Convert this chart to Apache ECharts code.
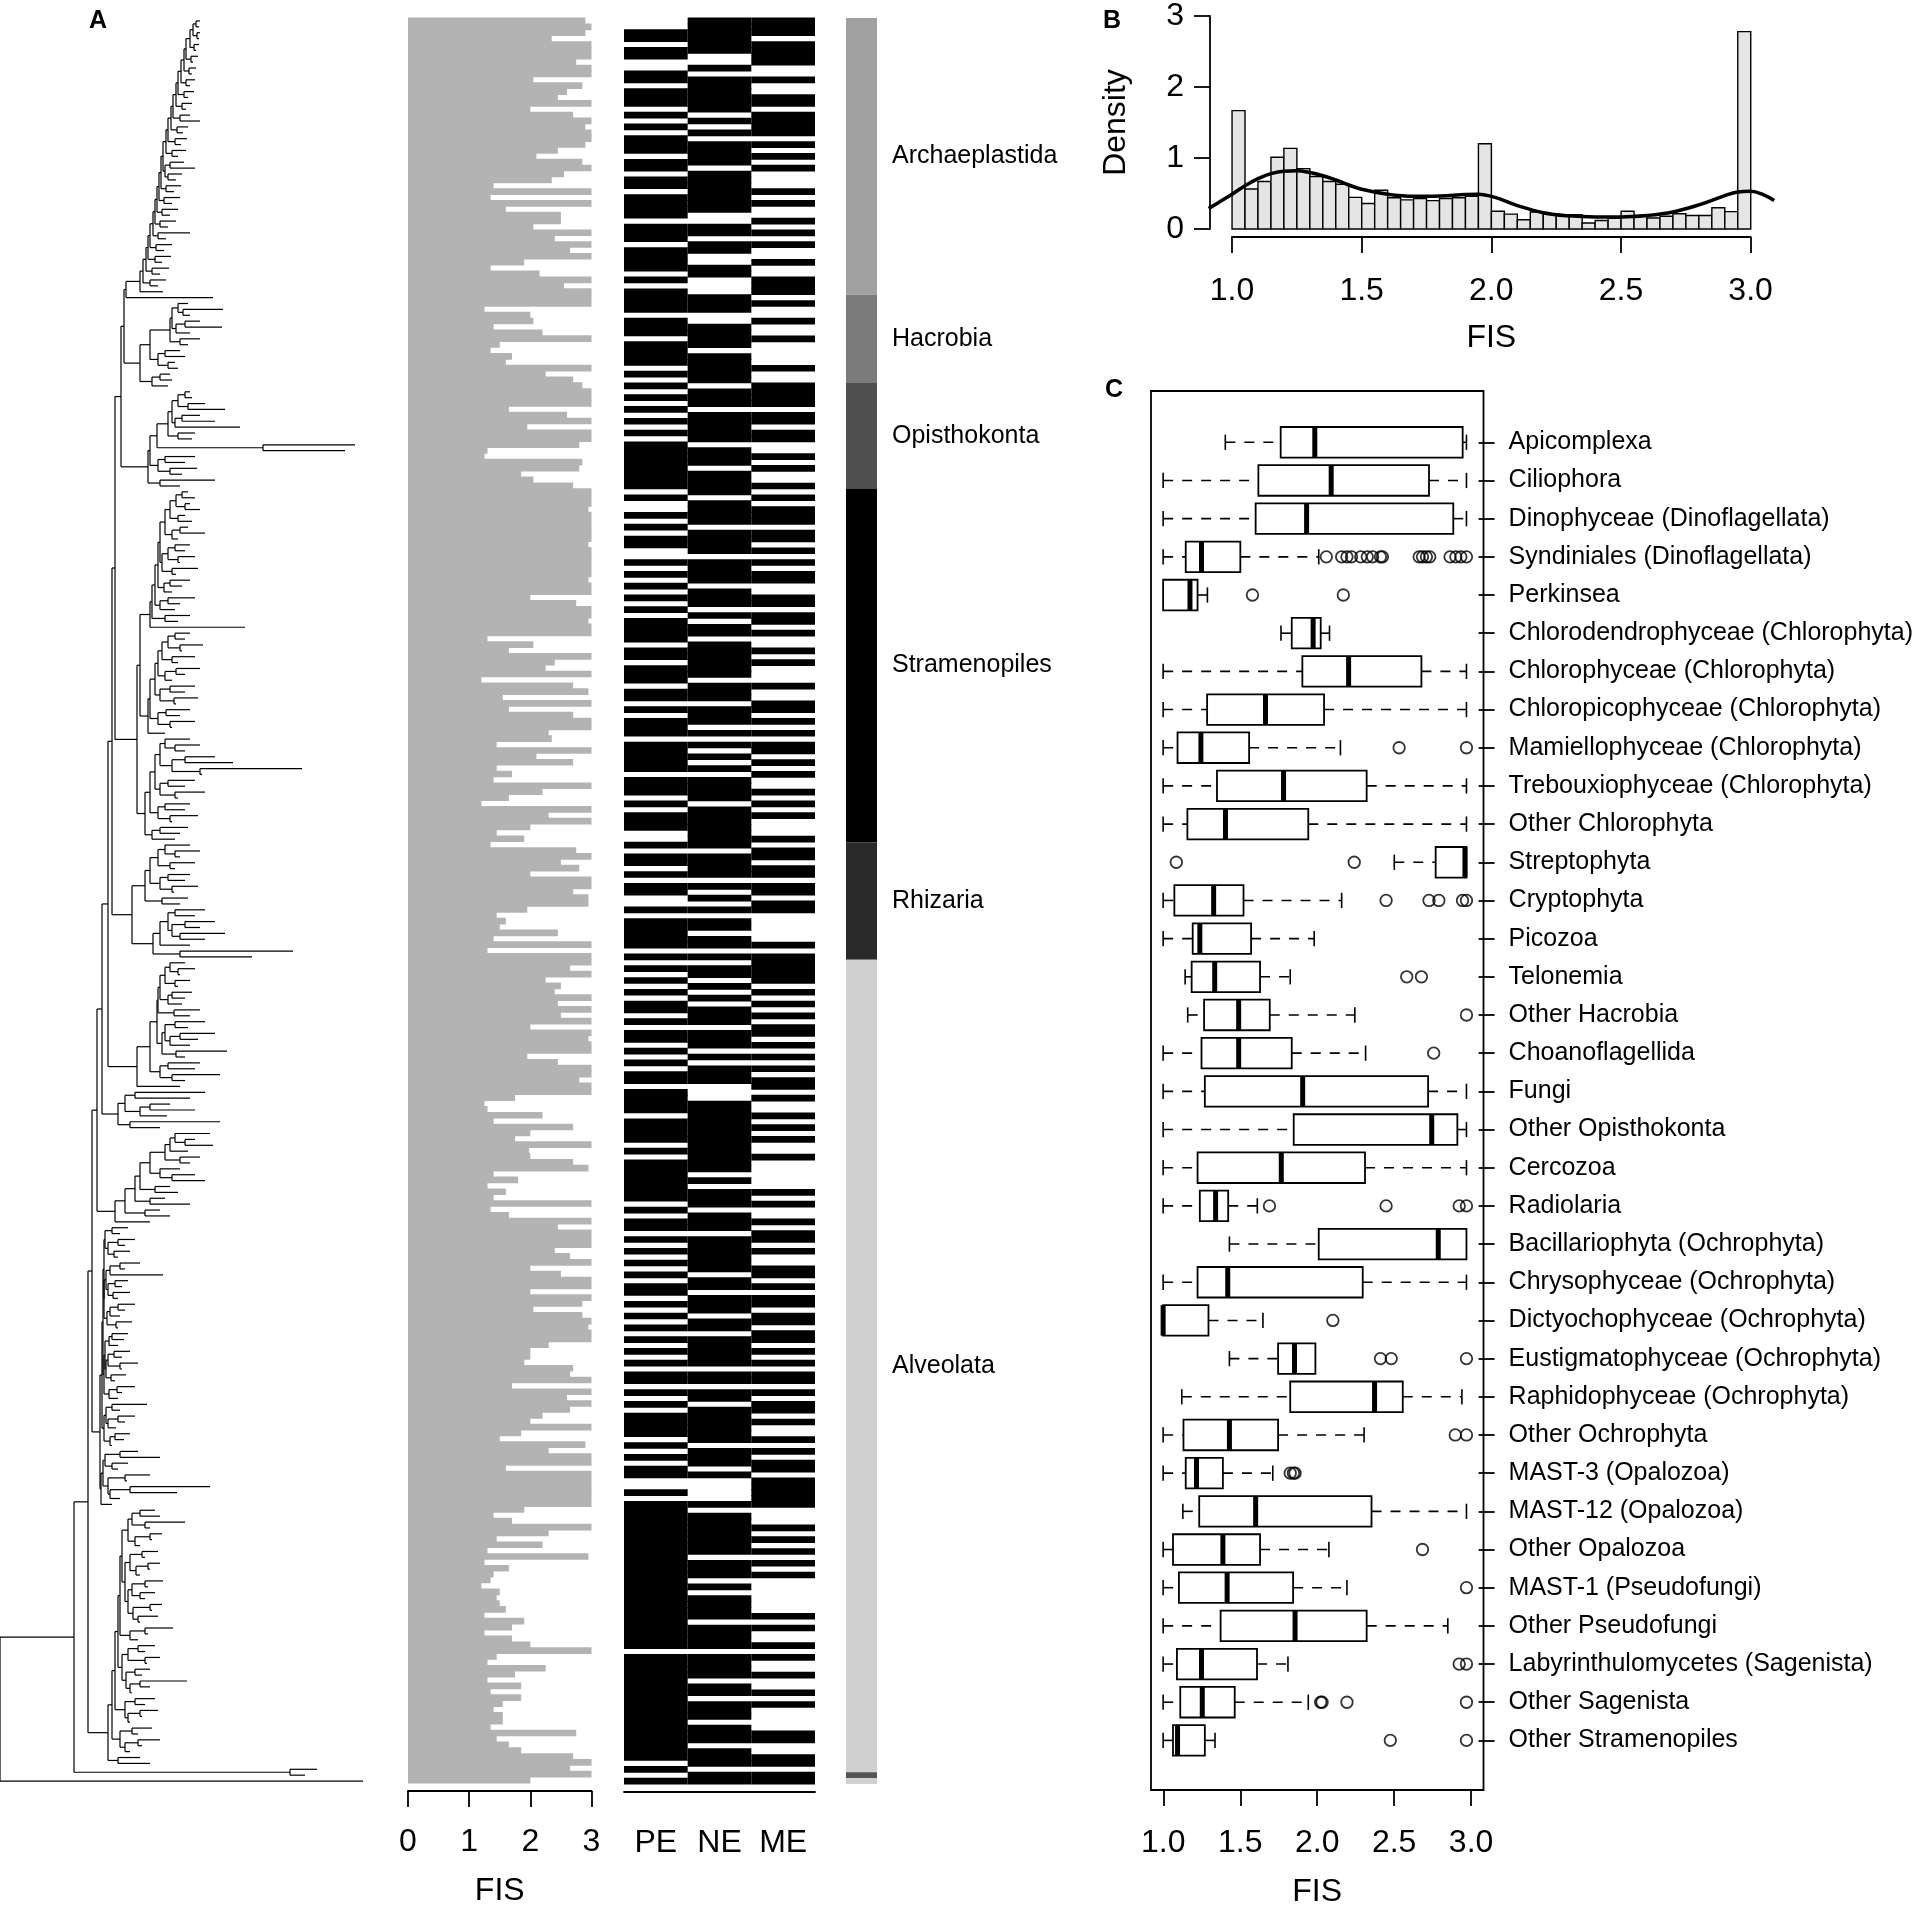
<!DOCTYPE html>
<html><head><meta charset="utf-8">
<script src="https://cdn.jsdelivr.net/npm/echarts@6/dist/echarts.min.js"></script>
<style>html,body{margin:0;padding:0;background:#fff}#c{width:1916px;height:1912px}</style>
</head><body><div id="c"></div>
<script>
const FONT = "'Liberation Sans', Arial, Helvetica, sans-serif";

// ================= Panel A data =================
const fisValues = [
2.9,3,2.9,2.35,3,3,3,2.75,3,3, 2.05,2.85,2.6,2.45,3,2.0,2.7,3,2.9,3,
3,2.9,2.45,2.1,2.85,3,2.55,2.35,1.4,3, 1.35,3,1.6,2.5,2.5,2.05,3,2.4,3,2.65,
3,1.9,1.35,2.15,3,2.55,3,3,3,1.25, 2.0,2.05,1.4,2.2,3,1.5,1.35,1.7,1.6,3,
2.25,2.7,2.85,3,3,3,1.65,2.6,3,1.95, 3,3,2.8,1.3,1.25,
2.85,2.8,1.85,2.05,2.7, 3,3,3,2.95,3,3,3,3,3,2.95, 3,3,3,3,3,2.95,3,3,
2.0,2.75,3,3,2.95,3,3, 1.3,2.05,1.65,3,2.4,2.25,3,1.2,2.7,2.95,
1.55,3,1.65,2.7,3,3,2.3,2.35,1.45,3, 2.1,2.7,1.45,1.7,1.4,3,2.2,1.65,1.2,3,
2.3,3,2.0,1.45,1.9,1.35,2.75,3,2.5,2.8, 2.0,3,3,2.7,2.95,
2.95,1.95,1.45,1.6,1.5,2.45,1.4,3,1.3,3, 3,2.65,3,2.25,2.5,2.4,3,2.45,3,2.5,
3,2.0,3,2.95,3,3,1.95,2.45,3,3, 2.8,3,3,1.75,1.25,1.3,2.2,1.4,2.7,2.0,
1.75,3,1.98,2.0,2.7,2.95,1.4,1.8,1.3,1.6, 1.4,3,1.35,1.65,3,2.45,3,3,3,2.4,
2.65,3,2.0,2.5,3,3,2.0,3,2.85,2.05, 2.85,3,2.95,3,3,
2.3,2.0,2.0,1.9,2.7,2.65,3,1.7,3,2.6, 3,2.65,2.2,2.0,3,1.85,1.5,2.9,2.3,3,
3,1.6,3,3,3,3,3,3,1.9,1.4, 1.7,3,2.3,1.45,2.2,1.3,2.95,1.25,1.65,1.4,
1.35,1.2,1.5,1.45,1.5,1.6,1.25,1.9,1.7,1.25, 1.7,2.0,3,1.45,1.3,2.25,1.75,1.3,1.85,1.35,
1.85,1.55,1.4,1.55,1.55,1.35,2.75,1.45,1.65,1.85, 2.7,3,2.65,3,2.0
];
const heatColumns = ['PE', 'NE', 'ME'];
const pePattern = ["0011011001","1011101010","1110110110","1111011101","1110101111","0111011110","1010101010","10111",
"11111","0100101011","0010101010","1011110110","1110110101","1101111101","1101011100","1011010110",
"0101111101","0101010110","1011010101","1011110111","1010111111","1010110101","0101011010","10101",
"01010","1101010111","1010101100","1011111111","1111111111","1111111011","1111111111","1111110101"].join('');
const nePattern = ["1111110010","1111110101","0111101111","1110011011","0011000111","0011110111","1101110111","11011",
"10111","1011110111","1011110111","0101101111","1101110111","0101010101","1110111111","1011110101",
"0101101101","0110101011","1011101011","1000111111","1111110101","1101110111","1110110111","01101",
"11110","1101101111","1101110100","0010111111","1011101011","1101111011","1101101110","1110111011"].join('');
const mePattern = ["1110111100","1001101111","0101010001","0100101010","0100111010","0100100001","0011110110","11001",
"01001","0101110110","1010110011","0110100101","0001001101","0101101010","0101010001","0110110110",
"1100000101","1111010101","0110101010","1101001010","1001000001","0100101101","0011010110","11011",
"01010","1101011010","0101011011","1110001010","1010100000","0101001010","0100101000","0110011011"].join('');

// tree: tip depth of each leaf, and depth of the split between leaf i and leaf i+1
const tipDepth = [
200,199,200,197,199,195,198,193,196,192, 195,190,194,188,192,186,190,200,188,183,
187,181,186,178,184,195,182,176,181,174, 180,172,178,170,176,168,190,166,172,164,
171,162,169,160,166,158,163, 213,
188,223,190,200,222,190,200,188,180,185,175,178,170,172,168,
190,192,205,225,200,215,240,195,192,355,345,195,185,197,182,215,180,
188,195,190,200,185,192,188,205,178,190, 185,195,180,198,176,190,182,172,195,180,
175,190,178,245, 190,185,203,182,195,178,200,185,172,195, 185,198,170,190,180,195,172,165,
190,200,185,215,233,302,180,195,185,205, 178,190,185,198,172,188,180,175,
190,200,180,195,175,190,185,198,172,188,180,205,195,215,200,225,205,190,293,252,
185,195,180,190,178,192,185,182,200,190, 205,188,215,198,190,227,185,200,195,220,185,180,
205,190,170,195,167,220,160,
210,195,213,188,200,190,180,195,205,170,178,165,190,160,170,150,
128,120,135,125,130,118,140,125,163,128, 122,130,118,135,125,120,132,115,128,124,
118,130,122,138,118,126,115,135,122,118, 147,120,135,125,116,130,124,112,138,160,
128,118,150,125,210,177,120,112,
155,160,185,150,162,148,140,158,145,160, 150,140,163,148,155,145,162,150,158,140,
173,148,138,155,145,160,140,150,142,187, 150,132,155,145,158,140,130,152,138,160,142,130,140,150,
317,305,363
];
const splitDepth = [
196,193,197,190,194,186,191,184,189,181, 186,178,184,176,182,173,180,171,177,168,
175,166,172,163,170,165,168,161,166,159, 164,157,162,155,160,153,158,150,156,148,
155,146,152,143,150,140, 126, 124,
178,183,172,185,176,170,180,150,165,158,168,140,160,152, 121,
185,178,188,172,182,175,168,178,157,263,150,165,158,170,148,160, 115,
182,176,185,170,178,165,180,172,160,175, 168,178,162,172,158,170,164,155,168,160,
152,165,150, 140,
175,168,180,162,172,158,176,165,155,170, 160,174,150,166,158,170,148, 137,
165,175,160,185,172,200,155,168,160,175, 150,165,158,170,145,160,152, 112,
165,175,158,170,150,168,160,172,145,162, 132,175,168,185,172,180,160,153,180, 108,
170,178,165,175,160,172,168,158,174,157, 175,165,180,170,162,176,150,168,160,172,137, 102,
135,125,150,140,118,130, 97,
175,185,170,165,180,150,160,172,140,155, 135,150,125,145,115, 92,
112,105,118,108,114,104,120,110,106,115, 108,113,104,118,110,107,116,103,112,109,
105,114,108,120,106,111,104,117,109,102, 112,106,118,108,104,115,110,100,120,105,
112,103,125,108,130,110,101, 88,
140,132,145,128,150,135,122,142,130,148, 136,125,145,132,140,128,150,133,138,120,
145,130,118,138,128,145,122,135,126,140, 130,115,135,125,140,128,112,132,120,138,125,108,118,
74, 290, 0
];
const groupNames = ['Archaeplastida', 'Hacrobia', 'Opisthokonta', 'Stramenopiles', 'Rhizaria', 'Alveolata', '', ''];
const groupCounts = [47, 15, 18, 60, 20, 138, 1, 1];
const groupColors = ['#a0a0a0', '#7b7b7b', '#505050', '#000000', '#2a2a2a', '#d0d0d0', '#555555', '#d0d0d0'];

// ================= Panel B data =================
const histBinStarts = [1.00,1.05,1.10,1.15,1.20,1.25,1.30,1.35,1.40,1.45,1.50,1.55,1.60,1.65,1.70,1.75,1.80,1.85,1.90,1.95,
2.00,2.05,2.10,2.15,2.20,2.25,2.30,2.35,2.40,2.45,2.50,2.55,2.60,2.65,2.70,2.75,2.80,2.85,2.90,2.95];
const histBinWidth = 0.05;
const histDensity = [1.667,0.563,0.67,1.01,1.136,0.85,0.74,0.67,0.63,0.446,0.36,0.545,0.44,0.41,0.43,0.40,0.43,0.44,0.46,1.20,
0.25,0.21,0.13,0.24,0.21,0.19,0.20,0.085,0.12,0.15,0.25,0.19,0.155,0.18,0.215,0.19,0.19,0.30,0.245,2.78];
const densityX = [0.91,0.96,1.0,1.05,1.1,1.15,1.2,1.25,1.3,1.35,1.4,1.45,1.5,1.6,1.7,1.8,1.9,1.95,2.0,2.05,2.1,2.2,2.3,2.4,2.5,2.6,2.7,2.8,2.9,2.95,3.0,3.05,3.09];
const densityY = [0.29,0.40,0.49,0.61,0.71,0.78,0.815,0.82,0.795,0.75,0.69,0.62,0.56,0.49,0.46,0.465,0.485,0.49,0.46,0.40,0.33,0.23,0.185,0.17,0.17,0.19,0.24,0.34,0.47,0.52,0.53,0.48,0.40];

// ================= Panel C data =================
const boxCategories = ['Apicomplexa','Ciliophora','Dinophyceae (Dinoflagellata)','Syndiniales (Dinoflagellata)','Perkinsea',
'Chlorodendrophyceae (Chlorophyta)','Chlorophyceae (Chlorophyta)','Chloropicophyceae (Chlorophyta)','Mamiellophyceae (Chlorophyta)',
'Trebouxiophyceae (Chlorophyta)','Other Chlorophyta','Streptophyta','Cryptophyta','Picozoa','Telonemia','Other Hacrobia',
'Choanoflagellida','Fungi','Other Opisthokonta','Cercozoa','Radiolaria','Bacillariophyta (Ochrophyta)','Chrysophyceae (Ochrophyta)',
'Dictyochophyceae (Ochrophyta)','Eustigmatophyceae (Ochrophyta)','Raphidophyceae (Ochrophyta)','Other Ochrophyta','MAST-3 (Opalozoa)',
'MAST-12 (Opalozoa)','Other Opalozoa','MAST-1 (Pseudofungi)','Other Pseudofungi','Labyrinthulomycetes (Sagenista)','Other Sagenista',
'Other Stramenopiles'];
// [lower whisker, Q1, median, Q3, upper whisker]
const boxStats = [
[1.41,1.775,2.0,2.975,3.0],[1.0,1.628,2.108,2.753,3.0],[1.0,1.61,1.946,2.913,3.0],[1.0,1.149,1.253,1.509,2.026],
[1.0,1.0,1.177,1.227,1.292],[1.777,1.848,1.989,2.039,2.097],[1.0,1.918,2.223,2.703,3.0],[1.0,1.29,1.675,2.061,3.0],
[1.0,1.095,1.249,1.567,2.169],[1.0,1.355,1.794,2.342,3.0],[1.0,1.16,1.411,1.957,3.0],[2.524,2.797,2.99,3.0,3.0],
[1.0,1.074,1.333,1.53,2.177],[1.0,1.195,1.242,1.58,1.996],[1.145,1.188,1.34,1.639,1.838],[1.162,1.27,1.498,1.703,2.264],
[1.0,1.253,1.498,1.848,2.335],[1.0,1.275,1.92,2.747,3.0],[1.0,1.861,2.771,2.94,3.0],[1.0,1.227,1.779,2.331,3.0],
[1.0,1.242,1.346,1.429,1.621],[1.437,2.026,2.814,3.0,3.0],[1.0,1.227,1.426,2.316,3.0],[1.0,1.0,1.0,1.299,1.658],
[1.437,1.758,1.866,2.004,2.004],[1.123,1.838,2.394,2.58,2.97],[1.0,1.134,1.437,1.758,2.325],[1.0,1.149,1.22,1.394,1.723],
[1.13,1.238,1.61,2.374,3.0],[1.0,1.065,1.394,1.639,2.093],[1.0,1.104,1.422,1.857,2.212],[1.0,1.379,1.87,2.342,2.877],
[1.0,1.091,1.253,1.619,1.823],[1.0,1.113,1.258,1.472,1.957],[1.0,1.065,1.095,1.275,1.342]
];
const boxOutliers = [
[],[],[],[2.076,2.177,2.212,2.242,2.303,2.346,2.381,2.433,2.446,2.688,2.71,2.736,2.758,2.892,2.93,2.963,3.0],
[1.589,2.188],[],[],[],[2.556,3.0],[],[],[1.087,2.26],[2.47,2.753,2.818,2.974,3.0],[],[2.606,2.703],[3.0],
[2.784],[],[],[],[1.701,2.47,2.952,3.0],[],[],[2.119],[2.433,2.504,3.0],[],[2.926,3.0],[1.838,1.859,1.87],
[],[2.71],[3.0],[],[2.952,3.0],[2.039,2.048,2.212,3.0],[2.498,3.0]
];

// ================= build derived structures =================
const N = tipDepth.length;
const treeSegs = [];
function build(lo, hi) {
  if (lo === hi) return { y: lo, x: tipDepth[lo], leaf: true };
  let k = lo;
  for (let j = lo + 1; j < hi; j++) if (splitDepth[j] < splitDepth[k]) k = j;
  const xd = splitDepth[k];
  const a = build(lo, k), b = build(k + 1, hi);
  [a, b].forEach(c => {
    const endX = c.leaf ? Math.max(c.x, xd + 2) : c.x;
    treeSegs.push([xd, c.y, endX, c.y]);
  });
  treeSegs.push([xd, a.y, xd, b.y]);
  return { y: (a.y + b.y) / 2, x: xd, leaf: false };
}
build(0, N - 1);

const heatCells = [];
[pePattern, nePattern, mePattern].forEach((p, c) => {
  for (let i = 0; i < Math.min(N, p.length); i++) if (p[i] === '1') heatCells.push([c, i]);
});
const groupData = [];
let acc = 0;
groupCounts.forEach((cnt, g) => { groupData.push([acc, acc + cnt, g]); acc += cnt; });

const outlierPts = [];
boxOutliers.forEach((arr, i) => arr.forEach(v => outlierPts.push([v, i])));

// ================= chart =================
const AX = { color: '#000', width: 1.8 };
const rowAxis = (gi) => ({ gridIndex: gi, type: 'value', min: -0.5, max: N - 0.5, inverse: true, show: false });
const tickLabel = { fontSize: 32, color: '#000', fontFamily: FONT };

const chart = echarts.init(document.getElementById('c'), null, { renderer: 'canvas' });
chart.setOption({
  animation: false,
  backgroundColor: '#fff',
  textStyle: { fontFamily: FONT },
  grid: [
    { left: 0, top: 18, width: 365, height: 1766 },            // 0 tree
    { left: 408, top: 18, width: 183.5, height: 1766 },        // 1 FIS bars
    { left: 624, top: 18, width: 191, height: 1766 },          // 2 heat
    { left: 846, top: 18, width: 31, height: 1766 },           // 3 groups
    { left: 1210, top: 16, width: 562, height: 213 },          // 4 hist
    { left: 1232, top: 236, width: 518.6, height: 1 },         // 5 hist x axis
    { left: 1151, top: 391, width: 332.5, height: 1399, show: true, borderColor: '#000', borderWidth: 1.8, backgroundColor: 'rgba(0,0,0,0)' }, // 6 frame
    { left: 1151, top: 423.2, width: 332.5, height: 1336.3 },  // 7 boxes
    { left: 1163.3, top: 1789, width: 307.8, height: 1 }       // 8 box x axis
  ],
  xAxis: [
    { gridIndex: 0, type: 'value', min: 0, max: 365, show: false },
    { gridIndex: 1, type: 'value', min: 0, max: 3, interval: 1, position: 'bottom', offset: 8,
      axisLine: { show: true, onZero: false, lineStyle: AX }, axisTick: { length: 16, lineStyle: AX },
      axisLabel: Object.assign({ margin: 35 }, tickLabel), splitLine: { show: false },
      name: 'FIS', nameLocation: 'middle', nameGap: 84, nameTextStyle: tickLabel },
    { gridIndex: 2, type: 'category', data: heatColumns, position: 'bottom', offset: 8,
      axisLine: { show: true, onZero: false, lineStyle: AX }, axisTick: { alignWithLabel: true, length: 16, lineStyle: AX },
      axisLabel: Object.assign({ margin: 35 }, tickLabel), splitLine: { show: false } },
    { gridIndex: 3, type: 'value', min: 0, max: 1, show: false },
    { gridIndex: 4, type: 'value', min: 0.915, max: 3.082, show: false },
    { gridIndex: 5, type: 'value', min: 1, max: 3, interval: 0.5, position: 'bottom',
      axisLine: { show: true, onZero: false, lineStyle: AX }, axisTick: { length: 16, lineStyle: AX },
      axisLabel: Object.assign({ margin: 38, formatter: v => v.toFixed(1) }, tickLabel), splitLine: { show: false },
      name: 'FIS', nameLocation: 'middle', nameGap: 85, nameTextStyle: tickLabel },
    { gridIndex: 6, type: 'value', min: 0, max: 1, show: false },
    { gridIndex: 7, type: 'value', min: 0.92, max: 3.08, show: false },
    { gridIndex: 8, type: 'value', min: 1, max: 3, interval: 0.5, position: 'bottom',
      axisLine: { show: false, onZero: false }, axisTick: { length: 16, lineStyle: AX },
      axisLabel: Object.assign({ margin: 37, formatter: v => v.toFixed(1) }, tickLabel), splitLine: { show: false },
      name: 'FIS', nameLocation: 'middle', nameGap: 86, nameTextStyle: tickLabel }
  ],
  yAxis: [
    rowAxis(0), rowAxis(1), rowAxis(2), rowAxis(3),
    { gridIndex: 4, type: 'value', min: 0, max: 3, interval: 1,
      axisLine: { show: true, onZero: false, lineStyle: AX }, axisTick: { show: true, length: 16, lineStyle: AX },
      axisLabel: Object.assign({ margin: 26 }, tickLabel), splitLine: { show: false },
      name: 'Density', nameLocation: 'middle', nameGap: 78, nameRotate: 90, nameTextStyle: tickLabel },
    { gridIndex: 5, type: 'value', min: 0, max: 1, show: false },
    { gridIndex: 6, type: 'value', min: 0, max: 1, show: false },
    { gridIndex: 7, type: 'category', data: boxCategories, inverse: true, position: 'right',
      axisLine: { show: false, onZero: false }, axisTick: { show: true, alignWithLabel: true, length: 16, lineStyle: AX },
      axisLabel: { interval: 0, margin: 30, fontSize: 25, color: '#000', fontFamily: FONT }, splitLine: { show: false } },
    { gridIndex: 8, type: 'value', min: 0, max: 1, show: false }
  ],
  graphic: [
    { type: 'text', x: 98, y: 21, style: { text: 'A', font: 'bold 25px ' + FONT, fill: '#000', align: 'center', verticalAlign: 'middle', textAlign: 'center', textVerticalAlign: 'middle' } },
    { type: 'text', x: 1112, y: 21, style: { text: 'B', font: 'bold 25px ' + FONT, fill: '#000', align: 'center', verticalAlign: 'middle', textAlign: 'center', textVerticalAlign: 'middle' } },
    { type: 'text', x: 1114, y: 390, style: { text: 'C', font: 'bold 25px ' + FONT, fill: '#000', align: 'center', verticalAlign: 'middle', textAlign: 'center', textVerticalAlign: 'middle' } }
  ],
  series: [
    // tree
    { type: 'custom', xAxisIndex: 0, yAxisIndex: 0, data: treeSegs, clip: false, silent: true,
      renderItem: (p, api) => {
        const a = api.coord([api.value(0), api.value(1)]), b = api.coord([api.value(2), api.value(3)]);
        return { type: 'line', shape: { x1: a[0], y1: a[1], x2: b[0], y2: b[1] }, style: { stroke: '#000', lineWidth: 1.2 } };
      } },
    // FIS bars
    { type: 'custom', xAxisIndex: 1, yAxisIndex: 1, data: fisValues.map((v, i) => [v, i]), clip: false, silent: true,
      renderItem: (p, api) => {
        const v = api.value(0), r = api.value(1);
        const a = api.coord([0, r]), b = api.coord([v, r]);
        const h = api.size([0, 1])[1];
        return { type: 'rect', shape: { x: a[0], y: a[1] - h / 2 - 0.4, width: b[0] - a[0], height: h + 0.8 }, style: { fill: '#b3b3b3' } };
      } },
    // PE/NE/ME
    { type: 'custom', xAxisIndex: 2, yAxisIndex: 2, data: heatCells, clip: false, silent: true,
      renderItem: (p, api) => {
        const c = api.coord([api.value(0), api.value(1)]);
        const s = api.size([1, 1]);
        return { type: 'rect', shape: { x: c[0] - s[0] / 2, y: c[1] - s[1] / 2 - 0.4, width: s[0], height: s[1] + 0.8 }, style: { fill: '#000' } };
      } },
    // group bar + labels
    { type: 'custom', xAxisIndex: 3, yAxisIndex: 3, data: groupData, clip: false, silent: true,
      renderItem: (p, api) => {
        const s = api.value(0), e = api.value(1), g = api.value(2);
        const a = api.coord([0, s - 0.5]), b = api.coord([1, e - 0.5]);
        const ch = [{ type: 'rect', shape: { x: a[0], y: a[1], width: b[0] - a[0], height: b[1] - a[1] }, style: { fill: groupColors[g] } }];
        if (groupNames[g]) {
          ch.push({ type: 'text', x: b[0] + 15, y: (a[1] + b[1]) / 2,
            style: { text: groupNames[g], font: '25px ' + FONT, fill: '#000', align: 'left', verticalAlign: 'middle', textAlign: 'left', textVerticalAlign: 'middle' } });
        }
        return { type: 'group', children: ch };
      } },
    // histogram
    { type: 'custom', xAxisIndex: 4, yAxisIndex: 4, data: histBinStarts.map((b, k) => [b, histDensity[k]]), clip: false, silent: true,
      renderItem: (p, api) => {
        const x0 = api.value(0), h = api.value(1);
        const a = api.coord([x0, h]), b = api.coord([x0 + histBinWidth, 0]);
        return { type: 'rect', shape: { x: a[0], y: a[1], width: b[0] - a[0], height: b[1] - a[1] }, style: { fill: '#e5e5e5', stroke: '#000', lineWidth: 1.4 } };
      } },
    // density curve
    { type: 'line', xAxisIndex: 4, yAxisIndex: 4, data: densityX.map((x, k) => [x, densityY[k]]), smooth: 0.4, symbol: 'none', clip: true, silent: true,
      lineStyle: { color: '#000', width: 3.5 } },
    // boxes
    { type: 'custom', xAxisIndex: 7, yAxisIndex: 7, data: boxStats.map((s, i) => [i].concat(s)), clip: false, silent: true,
      encode: { x: [1, 2, 3, 4, 5], y: 0 },
      renderItem: (p, api) => {
        const i = api.value(0), lo = api.value(1), q1 = api.value(2), med = api.value(3), q3 = api.value(4), hi = api.value(5);
        const band = api.size([0, 1])[1];
        const y = api.coord([med, i])[1];
        const X = v => api.coord([v, i])[0];
        const bh = band * 0.4, chh = band * 0.2;
        const dash = { stroke: '#000', lineWidth: 1.6, lineDash: [10, 9] };
        const solid = { stroke: '#000', lineWidth: 1.6 };
        const ch = [];
        if (lo < q1) {
          ch.push({ type: 'line', shape: { x1: X(lo), y1: y, x2: X(q1), y2: y }, style: dash });
          ch.push({ type: 'line', shape: { x1: X(lo), y1: y - chh, x2: X(lo), y2: y + chh }, style: solid });
        }
        if (hi > q3) {
          ch.push({ type: 'line', shape: { x1: X(q3), y1: y, x2: X(hi), y2: y }, style: dash });
          ch.push({ type: 'line', shape: { x1: X(hi), y1: y - chh, x2: X(hi), y2: y + chh }, style: solid });
        }
        ch.push({ type: 'rect', shape: { x: X(q1), y: y - bh, width: X(q3) - X(q1), height: 2 * bh }, style: { fill: '#fff', stroke: '#000', lineWidth: 1.8 } });
        ch.push({ type: 'line', shape: { x1: X(med), y1: y - bh, x2: X(med), y2: y + bh }, style: { stroke: '#000', lineWidth: 5 } });
        return { type: 'group', children: ch };
      } },
    // outliers
    { type: 'scatter', xAxisIndex: 7, yAxisIndex: 7, data: outlierPts, symbol: 'circle', symbolSize: 11.5, silent: true,
      itemStyle: { color: 'rgba(0,0,0,0)', borderColor: '#000', borderWidth: 1.8 } }
  ]
});
</script>
</body></html>
